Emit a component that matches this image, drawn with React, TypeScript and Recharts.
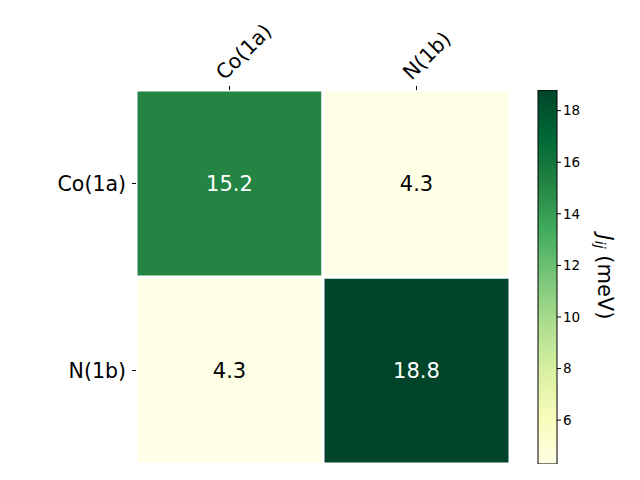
import React from "react";
import {
    BarChart,
    Bar,
    XAxis,
    YAxis,
    Cell,
    LabelList,
    Label,
} from "recharts";

// atoms along both axes, values of J_ij in meV (row = y, column = x)
const sites = ["Co(1a)", "N(1b)"];
const couplings = [
    [15.2, 4.3],
    [4.3, 18.8],
];
const cbarTicks = [6, 8, 10, 12, 14, 16, 18];
const vmin = 4.3;
const vmax = 18.8;

// matplotlib YlGn
const ylgn = ["#ffffe5", "#f7fcb9", "#d9f0a3", "#addd8e", "#78c679", "#41ab5d", "#238443", "#006837", "#004529"];

const hex = (h: string) => [1, 3, 5].map((i) => parseInt(h.slice(i, i + 2), 16));
const colorFor = (v: number) => {
    const t = Math.max(0, Math.min(1, (v - vmin) / (vmax - vmin))) * (ylgn.length - 1);
    const i = Math.min(Math.floor(t), ylgn.length - 2);
    const f = t - i;
    const a = hex(ylgn[i]);
    const b = hex(ylgn[i + 1]);
    const c = a.map((x, k) => Math.round(x + (b[k] - x) * f));
    return `rgb(${c[0]},${c[1]},${c[2]})`;
};

// one entry per column; bottom of the stack is the last row
const tableData = sites.map((col, j) => ({
    col,
    bottom: 1,
    top: 1,
    vBottom: couplings[1][j],
    vTop: couplings[0][j],
}));
const cbarData = [{ name: "cbar", range: [vmin, vmax] }];

const font = "DejaVu Sans, sans-serif";

const TopTick = (props: any) => {
    const { x, y, payload } = props;
    return (
        <text
            x={x - 5}
            y={y - 3}
            transform={`rotate(-45, ${x - 5}, ${y - 3})`}
            textAnchor="start"
            fontSize={20.5}
            fontFamily={font}
            fill="#000"
        >
            {payload.value}
        </text>
    );
};

const cellText = (props: any) => {
    const { x, y, width, height, value } = props;
    const v = Number(value);
    return (
        <text
            x={x + width / 2}
            y={y + height / 2}
            textAnchor="middle"
            dominantBaseline="central"
            fontSize={21}
            fontFamily={font}
            fill={v > 11 ? "#fff" : "#000"}
        >
            {v.toFixed(1)}
        </text>
    );
};

const CbarLabel = (props: any) => {
    const { viewBox } = props;
    const cx = viewBox.x + 48;
    const cy = viewBox.y + viewBox.height / 2;
    return (
        <text
            x={cx}
            y={cy}
            transform={`rotate(90, ${cx}, ${cy})`}
            textAnchor="middle"
            dominantBaseline="central"
            fontSize={21}
            fontFamily={font}
            fill="#000"
        >
            <tspan fontStyle="italic">J</tspan>
            <tspan fontSize={14} fontStyle="italic" dy={5}>ij</tspan>
            <tspan dy={-5}> (meV)</tspan>
        </text>
    );
};

export default function App() {
    return (
        <div style={{ position: "absolute", left: 0, top: 0, width: 640, height: 480, background: "#fff" }}>
            <div style={{ position: "absolute", left: 0, top: 0 }}>
                <BarChart
                    width={640}
                    height={480}
                    data={tableData}
                    margin={{ top: 30, right: 130, bottom: 16, left: 36 }}
                    barCategoryGap={0}
                    barGap={0}
                >
                    <XAxis
                        dataKey="col"
                        orientation="top"
                        height={60}
                        axisLine={false}
                        tickSize={4}
                        tickLine={{ stroke: "#000" }}
                        tick={<TopTick />}
                        interval={0}
                    />
                    <YAxis
                        type="number"
                        domain={[0, 2]}
                        ticks={[0.5, 1.5]}
                        width={100}
                        axisLine={false}
                        tickSize={4}
                        tickLine={{ stroke: "#000" }}
                        tickFormatter={(v: number) => (v > 1 ? sites[0] : sites[1])}
                        tick={{ fontSize: 20.5, fontFamily: font, fill: "#000", dx: -4 }}
                    />
                    <Bar dataKey="bottom" stackId="a" stroke="#fff" strokeWidth={3} isAnimationActive={false}>
                        {tableData.map((d, i) => (
                            <Cell key={i} fill={colorFor(d.vBottom)} />
                        ))}
                        <LabelList dataKey="vBottom" content={cellText} />
                    </Bar>
                    <Bar dataKey="top" stackId="a" stroke="#fff" strokeWidth={3} isAnimationActive={false}>
                        {tableData.map((d, i) => (
                            <Cell key={i} fill={colorFor(d.vTop)} />
                        ))}
                        <LabelList dataKey="vTop" content={cellText} />
                    </Bar>
                </BarChart>
            </div>
            <div style={{ position: "absolute", left: 0, top: 0 }}>
                <BarChart
                    width={640}
                    height={480}
                    data={cbarData}
                    margin={{ top: 90, right: 33, bottom: 16, left: 538 }}
                    barCategoryGap={0}
                >
                    <defs>
                        <linearGradient id="ylgnGrad" x1="0" y1="1" x2="0" y2="0">
                            {ylgn.map((c, i) => (
                                <stop key={i} offset={i / (ylgn.length - 1)} stopColor={c} />
                            ))}
                        </linearGradient>
                    </defs>
                    <XAxis dataKey="name" hide />
                    <YAxis
                        type="number"
                        orientation="right"
                        domain={[vmin, vmax]}
                        ticks={cbarTicks}
                        width={50}
                        axisLine={false}
                        tickSize={4}
                        tickLine={{ stroke: "#000" }}
                        tick={{ fontSize: 13.5, fontFamily: font, fill: "#000" }}
                        allowDataOverflow
                    >
                        <Label content={<CbarLabel />} />
                    </YAxis>
                    <Bar dataKey="range" fill="url(#ylgnGrad)" stroke="#000" strokeWidth={1} isAnimationActive={false} />
                </BarChart>
            </div>
        </div>
    );
}
